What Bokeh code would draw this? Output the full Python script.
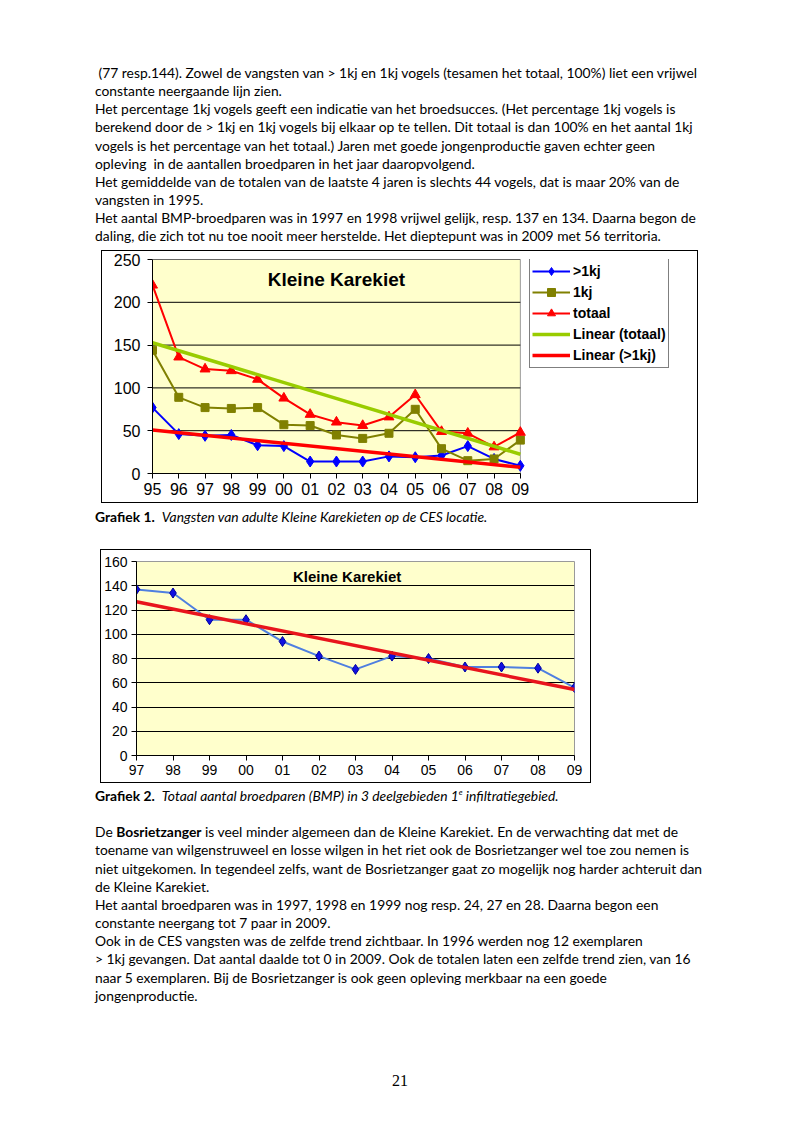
import numpy as np
from bokeh.plotting import figure
from bokeh.models import (Div, Legend, LegendItem, Label, FixedTicker, Range1d)
from bokeh.layouts import column, row
from bokeh.embed import file_html
from bokeh.resources import INLINE

# ---------------- data ----------------
years1 = ["95", "96", "97", "98", "99", "00", "01", "02", "03", "04", "05", "06", "07", "08", "09"]
adult = [77, 46, 44, 45, 33, 32, 14, 14, 14, 20, 19, 21, 32, 17, 9]          # >1kj
juv = [144, 89, 77, 76, 77, 57, 56, 45, 41, 47, 75, 29, 15, 17, 39]          # 1kj
totaal = [220, 136, 122, 120, 110, 88, 69, 60, 56, 66, 92, 49, 47, 31, 48]   # totaal
yticks1 = [0, 50, 100, 150, 200, 250]

years2 = ["97", "98", "99", "00", "01", "02", "03", "04", "05", "06", "07", "08", "09"]
bmp = [137, 134, 112, 112, 94, 82, 71, 82, 80, 73, 73, 72, 56]
yticks2 = [0, 20, 40, 60, 80, 100, 120, 140, 160]

TXT = "Lato"
TXT_SIZE = "13.85px"
LH = "18.15px"

def para(lines):
    return ("<div style=\"font-family:'%s';font-size:%s;line-height:%s;white-space:nowrap;color:#000;\">"
            % (TXT, TXT_SIZE, LH)) + "<br>".join(lines) + "</div>"

text1 = [
    "&nbsp;(77 resp.144). Zowel de vangsten van &gt; 1kj en 1kj vogels (tesamen het totaal, 100%) liet een vrijwel",
    "constante neergaande lijn zien.",
    "Het percentage 1kj vogels geeft een indicatie van het broedsucces. (Het percentage 1kj vogels is",
    "berekend door de &gt; 1kj en 1kj vogels bij elkaar op te tellen. Dit totaal is dan 100% en het aantal 1kj",
    "vogels is het percentage van het totaal.) Jaren met goede jongenproductie gaven echter geen",
    "opleving &nbsp;in de aantallen broedparen in het jaar daaropvolgend.",
    "Het gemiddelde van de totalen van de laatste 4 jaren is slechts 44 vogels, dat is maar 20% van de",
    "vangsten in 1995.",
    "Het aantal BMP-broedparen was in 1997 en 1998 vrijwel gelijk, resp. 137 en 134. Daarna begon de",
    "daling, die zich tot nu toe nooit meer herstelde. Het dieptepunt was in 2009 met 56 territoria.",
]
caption1 = ["<b>Grafiek 1.</b>&nbsp; <i>Vangsten van adulte Kleine Karekieten op de CES locatie.</i>"]
text2 = [
    "<b>Grafiek 2.</b>&nbsp; <i>Totaal aantal broedparen (BMP) in 3 deelgebieden 1<span style=\"font-size:8px;vertical-align:6px;line-height:0\">e</span> infiltratiegebied.</i>",
    "&nbsp;",
    "De <b>Bosrietzanger</b> is veel minder algemeen dan de Kleine Karekiet. En de verwachting dat met de",
    "toename van wilgenstruweel en losse wilgen in het riet ook de Bosrietzanger wel toe zou nemen is",
    "niet uitgekomen. In tegendeel zelfs, want de Bosrietzanger gaat zo mogelijk nog harder achteruit dan",
    "de Kleine Karekiet.",
    "Het aantal broedparen was in 1997, 1998 en 1999 nog resp. 24, 27 en 28. Daarna begon een",
    "constante neergang tot 7 paar in 2009.",
    "Ook in de CES vangsten was de zelfde trend zichtbaar. In 1996 werden nog 12 exemplaren",
    "&gt; 1kj gevangen. Dat aantal daalde tot 0 in 2009. Ook de totalen laten een zelfde trend zien, van 16",
    "naar 5 exemplaren. Bij de Bosrietzanger is ook geen opleving merkbaar na een goede",
    "jongenproductie.",
]

AX_FONT = "Liberation Sans"

def style_axes(p, xticks, xlabels, yticks, size):
    p.xaxis.ticker = FixedTicker(ticks=xticks)
    p.xaxis.major_label_overrides = {int(i): s for i, s in zip(xticks, xlabels)}
    p.yaxis.ticker = FixedTicker(ticks=yticks)
    for ax in (p.xaxis[0], p.yaxis[0]):
        ax.axis_line_color = "black"
        ax.axis_line_width = 1
        ax.major_tick_line_color = "black"
        ax.major_tick_out = 5
        ax.major_tick_in = 0
        ax.minor_tick_line_color = None
        ax.major_label_text_font = AX_FONT
        ax.major_label_text_font_size = size
        ax.major_label_text_color = "black"
    p.xaxis.major_label_standoff = 4
    p.yaxis.major_label_standoff = 7
    p.xgrid.grid_line_color = None
    p.ygrid.ticker = FixedTicker(ticks=yticks)
    p.ygrid.grid_line_color = "black"
    p.ygrid.grid_line_width = 1

# ---------------- chart 1 ----------------
# the frame also holds the legend column on the right; the plot area covers the years only
x1 = np.arange(len(years1))
PA_W, FRAME_W = 366.5, 545
p1 = figure(frame_width=FRAME_W, frame_height=212,
            x_range=Range1d(x1[0], x1[-1] * FRAME_W / PA_W), y_range=Range1d(yticks1[0], yticks1[-1]),
            output_backend="svg", toolbar_location=None,
            min_border_left=50, min_border_right=0, min_border_top=8, min_border_bottom=31,
            background_fill_color="white", border_fill_color="white", outline_line_color=None,
            styles={"border": "1px solid black"}, margin=0)
style_axes(p1, list(x1), years1, yticks1, "16px")
p1.ygrid.grid_line_color = None
p1.xaxis.bounds = (x1[0], x1[-1])

# plot area (light yellow, grey border) and horizontal grid lines
p1.quad(left=x1[0], right=x1[-1], bottom=yticks1[0], top=yticks1[-1],
        fill_color="#FFFFCC", line_color="#9A9A9A", line_width=1)
p1.segment(x0=[x1[0]] * len(yticks1), x1=[x1[-1]] * len(yticks1), y0=yticks1, y1=yticks1,
           line_color="black", line_width=1)

la = p1.line(x1, adult, line_color="#0000FF", line_width=2)
ma = p1.scatter(x1, adult, marker="diamond", size=11, fill_color="#0000FF", line_color="#0000FF")
lj = p1.line(x1, juv, line_color="#808000", line_width=2)
mj = p1.scatter(x1, juv, marker="square", size=8, fill_color="#808000", line_color="#808000")
lt = p1.line(x1, totaal, line_color="#FF0000", line_width=2)
mt = p1.scatter(x1, totaal, marker="triangle", size=10, fill_color="#FF0000", line_color="#FF0000")

ct = np.polyfit(x1, totaal, 1)
ca = np.polyfit(x1, adult, 1)
ends1 = np.array([x1[0], x1[-1]])
tt = p1.line(ends1, np.polyval(ct, ends1), line_color="#99CC00", line_width=3.5)
ta = p1.line(ends1, np.polyval(ca, ends1), line_color="#FF0000", line_width=3.5)

legend = Legend(items=[
    LegendItem(label=">1kj", renderers=[la, ma]),
    LegendItem(label="1kj", renderers=[lj, mj]),
    LegendItem(label="totaal", renderers=[lt, mt]),
    LegendItem(label="Linear (totaal)", renderers=[tt]),
    LegendItem(label="Linear (>1kj)", renderers=[ta]),
], location=(377, 105), margin=0, padding=2, spacing=1,
    glyph_width=38, glyph_height=20, label_height=20, label_standoff=3,
    label_text_font=AX_FONT, label_text_font_style="bold", label_text_font_size="14px",
    label_text_color="black", border_line_color="black", border_line_width=1,
    background_fill_color="white", background_fill_alpha=1.0)
p1.add_layout(legend)

p1.add_layout(Label(x=7, y=227, text="Kleine Karekiet", text_font=AX_FONT, text_font_style="bold",
                    text_font_size="19px", text_align="center", text_baseline="middle", text_color="black"))

# ---------------- chart 2 ----------------
x2 = np.arange(len(years2))
p2 = figure(frame_width=436, frame_height=192, x_range=Range1d(x2[0], x2[-1]), y_range=Range1d(yticks2[0], yticks2[-1]),
            output_backend="svg", toolbar_location=None,
            min_border_left=33, min_border_right=18, min_border_top=11, min_border_bottom=29,
            background_fill_color="#FFFFCC", border_fill_color="white",
            outline_line_color="#9A9A9A", outline_line_width=1,
            styles={"border": "1px solid black"}, margin=0)
style_axes(p2, list(x2), years2, yticks2, "14px")
p2.yaxis.major_label_standoff = 4

p2.line(x2, bmp, line_color="#4F7FE0", line_width=2)
p2.scatter(x2, bmp, marker="diamond", size=10, fill_color="#1010E0", line_color="#0000A0")
cb = np.polyfit(x2, bmp, 1)
ends2 = np.array([x2[0], x2[-1]])
p2.line(ends2, np.polyval(cb, ends2), line_color="#E8141C", line_width=3.5)
p2.add_layout(Label(x=5.77, y=148, text="Kleine Karekiet", text_font=AX_FONT, text_font_style="bold",
                    text_font_size="15px", text_align="center", text_baseline="middle", text_color="black"))

# ---------------- page ----------------
d1 = Div(text=para(text1), width=660, height=182, margin=(64, 0, 0, 95))
d2 = Div(text=para(caption1), width=660, height=18, margin=(5, 0, 0, 95))
d3 = Div(text=para(text2), width=660, height=218, margin=(4, 0, 0, 95))
d4 = Div(text="<div style=\"font-family:'Liberation Serif';font-size:16px;line-height:18px;color:#000;\">21</div>",
         width=40, height=18, margin=(67, 0, 0, 392))

box1 = row(p1, margin=(4, 0, 0, 101))
box2 = row(p2, margin=(23, 0, 0, 100))
page = column(d1, box1, d2, box2, d3, d4)
open("out.html", "w").write(file_html(page, INLINE))
